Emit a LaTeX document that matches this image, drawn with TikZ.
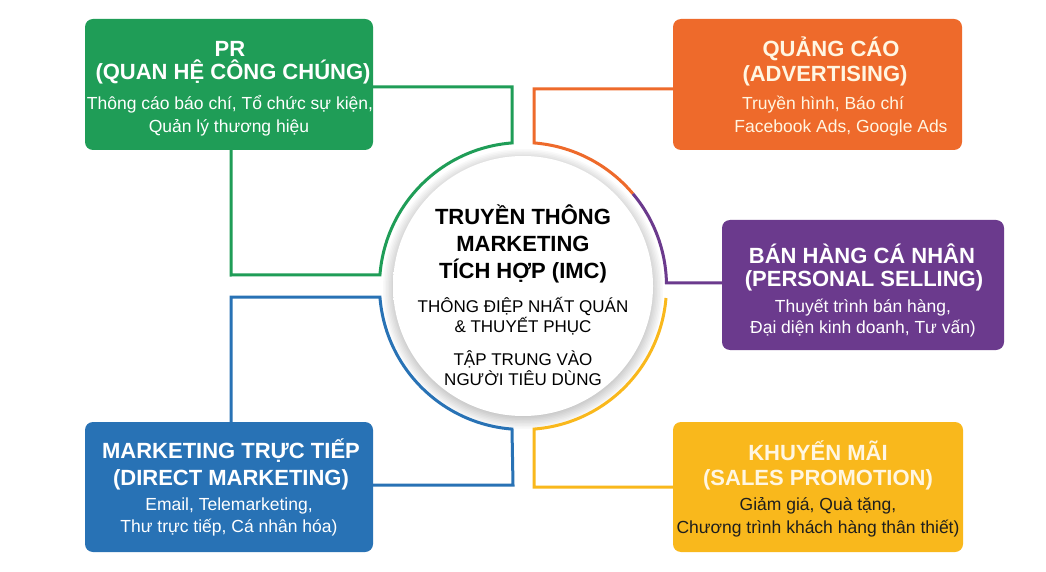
\documentclass[tikz,border=0pt]{standalone}
\usepackage{fontspec}
\setmainfont{Liberation Sans}
\usetikzlibrary{calc}
\definecolor{cgreen}{HTML}{1F9D57}
\definecolor{corange}{HTML}{EE6A2B}
\definecolor{cpurple}{HTML}{6B3A8D}
\definecolor{cblue}{HTML}{2872B5}
\definecolor{cyellow}{HTML}{F9B81C}
\definecolor{ccream}{HTML}{FFF6E2}
\definecolor{cdark}{HTML}{1E1E1E}
\pgfdeclareradialshading{discrim}{\pgfpoint{0bp}{0bp}}{color(0bp)=(white); color(44bp)=(white); color(47.5bp)=(black!7); color(50bp)=(black!20); color(100bp)=(black!20)}
\begin{document}
\begin{tikzpicture}[x=1pt,y=1pt,
  box/.style={rounded corners=8pt, inner sep=0pt, draw=none},
  ttl/.style={font=\bfseries\fontsize{22}{26}\selectfont, anchor=base, inner sep=0pt},
  bdy/.style={font=\fontsize{17.5}{21}\selectfont, anchor=base, inner sep=0pt},
  ctr/.style={font=\fontsize{17}{20}\selectfont, anchor=base, inner sep=0pt, text=black},
  conn/.style={line width=3pt, line join=miter}]
\useasboundingbox (0,0) rectangle (1046,571);
\fill[white] (0,0) rectangle (1046,571);

% boxes
\node[box, fill=cgreen, minimum width=288pt, minimum height=131pt] (pr) at (229,486.5) {};
\node[box, fill=corange, minimum width=289pt, minimum height=131pt] (ad) at (817.5,486.5) {};
\node[box, fill=cpurple, minimum width=282pt, minimum height=130pt] (ps) at (863,286) {};
\node[box, fill=cblue, minimum width=288pt, minimum height=130pt] (dm) at (229,84) {};
\node[box, fill=cyellow, minimum width=290pt, minimum height=130pt] (sp) at (818,84) {};

% circle
\coordinate (c) at (523,285);
\foreach \r in {128,129.5,...,140} \fill[black, opacity=0.022] ($(c)+(0,-3)$) circle (\r pt);
\node[circle, minimum size=260pt, inner sep=0pt, shading=discrim] (imc) at (c) {};

% connector corner points
\coordinate (gtop) at (512,484);
\coordinate (gl) at (231,296);
\coordinate (otop) at (534,482);
\coordinate (bbot) at (513,86);
\coordinate (bl) at (231,274);
\coordinate (ybot) at (534,84);

% green
\draw[conn, cgreen] (pr.east |- gtop) -- (gtop) -- ($(c)+(94.4:143.5)$)
  arc[start angle=94.4, end angle=175.6, radius=143.5pt] -- (gl) -- (pr.south -| gl);
% orange
\draw[conn, corange] (ad.west |- otop) -- (otop) -- ($(c)+(85.6:143.5)$)
  arc[start angle=85.6, end angle=40, radius=143.5pt];
% purple
\draw[conn, cpurple] ($(c)+(40:143.5)$)
  arc[start angle=40, end angle=1.2, radius=143.5pt] coordinate (pe) -- (pe -| ps.west);
% yellow
\draw[conn, cyellow] ($(c)+(-4.8:143.5)$)
  arc[start angle=-4.8, end angle=-85.6, radius=143.5pt] -- (ybot) -- (sp.west |- ybot);
% blue
\draw[conn, cblue] (dm.east |- bbot) -- (bbot) -- ($(c)+(-94.4:143.5)$)
  arc[start angle=-94.4, end angle=-175.6, radius=143.5pt] -- (bl) -- (dm.north -| bl);

% PR text
\node[ttl, text=white] (pr1) at (230,514) {PR};
\node[ttl, text=white] (pr2) at (233,491) {(QUAN HỆ CÔNG CHÚNG)};
\node[bdy, text=white] (pr3) at (230,461) {Thông cáo báo chí, Tổ chức sự kiện,};
\node[bdy, text=white] (pr4) at (229,438) {Quản lý thương hiệu};

% Advertising text
\node[ttl, text=ccream] (ad1) at (831,514) {QUẢNG CÁO};
\node[ttl, text=ccream] (ad2) at (825,489) {(ADVERTISING)};
\node[bdy, text=ccream] (ad3) at (823,461) {Truyền hình, Báo chí};
\node[bdy, text=ccream] (ad4) at (841,438) {Facebook Ads, Google Ads};

% Personal selling text
\node[ttl, text=white] (ps1) at (862,308) {BÁN HÀNG CÁ NHÂN};
\node[ttl, text=white] (ps2) at (864,284) {(PERSONAL SELLING)};
\node[bdy, text=white] (ps3) at (863,259) {Thuyết trình bán hàng,};
\node[bdy, text=white] (ps4) at (863,238) {Đại diện kinh doanh, Tư vấn)};

% Direct marketing text
\node[ttl, text=white] (dm1) at (231,113) {MARKETING TRỰC TIẾP};
\node[ttl, text=white] (dm2) at (231,86) {(DIRECT MARKETING)};
\node[bdy, text=white] (dm3) at (229,61) {Email, Telemarketing,};
\node[bdy, text=white] (dm4) at (229,39) {Thư trực tiếp, Cá nhân hóa)};

% Sales promotion text
\node[ttl, text=ccream] (sp1) at (818,111) {KHUYẾN MÃI};
\node[ttl, text=ccream] (sp2) at (818,86) {(SALES PROMOTION)};
\node[bdy, text=cdark] (sp3) at (818,61) {Giảm giá, Quà tặng,};
\node[bdy, text=cdark] (sp4) at (818,38) {Chương trình khách hàng thân thiết)};

% centre text
\node[ttl, text=black] (c1) at (523,346) {TRUYỀN THÔNG};
\node[ttl, text=black] (c2) at (523,319) {MARKETING};
\node[ttl, text=black] (c3) at (523,293) {TÍCH HỢP (IMC)};
\node[ctr] (c4) at (523,259) {THÔNG ĐIỆP NHẤT QUÁN};
\node[ctr] (c5) at (523,239) {\& THUYẾT PHỤC};
\node[ctr] (c6) at (523,206) {TẬP TRUNG VÀO};
\node[ctr] (c7) at (523,186) {NGƯỜI TIÊU DÙNG};
\end{tikzpicture}
\end{document}
